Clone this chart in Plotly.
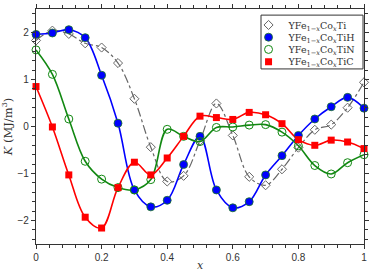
import plotly.graph_objects as go

x = [0.0, 0.05, 0.1, 0.15, 0.2, 0.25, 0.3, 0.35, 0.4, 0.45, 0.5,
     0.55, 0.6, 0.65, 0.7, 0.75, 0.8, 0.85, 0.9, 0.95, 1.0]

k_ti = [1.83, 2.04, 1.97, 1.77, 1.68, 1.35, 0.59, -0.44, -1.17, -1.05, -0.30,
        0.49, -0.19, -1.07, -1.25, -0.91, -0.45, -0.07, 0.04, 0.40, 0.94]
k_tih = [1.96, 1.99, 2.06, 1.89, 1.09, 0.07, -1.35, -1.71, -1.57, -0.81, -0.21,
         -1.35, -1.73, -1.60, -1.03, -0.62, -0.19, 0.16, 0.42, 0.62, 0.39]
k_tin = [1.63, 1.11, 0.16, -0.74, -1.12, -1.30, -1.35, -1.13, -0.06, -0.21, -0.32,
         -0.02, -0.01, 0.03, 0.04, -0.12, -0.41, -0.83, -1.01, -0.77, -0.60]
k_tic = [0.85, -0.01, -1.03, -1.93, -2.16, -1.30, -0.76, -1.03, -0.67, -0.21, 0.22,
         0.19, 0.15, 0.30, 0.25, 0.06, -0.28, -0.40, -0.29, -0.33, -0.47]

names = ["YFe<sub>1\u2212<i>x</i></sub>Co<sub><i>x</i></sub>Ti",
         "YFe<sub>1\u2212<i>x</i></sub>Co<sub><i>x</i></sub>TiH",
         "YFe<sub>1\u2212<i>x</i></sub>Co<sub><i>x</i></sub>TiN",
         "YFe<sub>1\u2212<i>x</i></sub>Co<sub><i>x</i></sub>TiC"]

x_ticks = [0, 0.2, 0.4, 0.6, 0.8, 1]
x_ticklabels = ["0", "0.2", "0.4", "0.6", "0.8", "1"]
y_ticks = [-2, -1, 0, 1, 2]
y_ticklabels = ["\u22122", "\u22121", "0", "1", "2"]

series = [
    dict(y=k_ti, color="#666666", dash="dashdot", width=1.2,
         marker=dict(symbol="diamond-open", size=7, color="#666666", line=dict(width=1, color="#666666"))),
    dict(y=k_tih, color="#0000ff", dash="solid", width=1.6,
         marker=dict(symbol="circle", size=8, color="#0000ff", line=dict(width=0.8, color="#1a7a1a"))),
    dict(y=k_tin, color="#118811", dash="solid", width=1.6,
         marker=dict(symbol="circle-open", size=8, color="#118811", line=dict(width=1, color="#118811"))),
    dict(y=k_tic, color="#ff0000", dash="solid", width=1.6,
         marker=dict(symbol="square", size=7, color="#ff0000", line=dict(width=0))),
]

fig = go.Figure()
for s in series:
    fig.add_trace(go.Scatter(x=x, y=s["y"], mode="lines",
                             line=dict(color=s["color"], dash=s["dash"], width=s["width"],
                                       shape="spline", smoothing=1.0),
                             showlegend=False, hoverinfo="skip", cliponaxis=False))

legend_ids = ["legend", "legend2", "legend3", "legend4"]
for s, n, lg in zip(series, names, legend_ids):
    fig.add_trace(go.Scatter(x=x, y=s["y"], mode="markers", name=n, legend=lg,
                             marker=s["marker"], cliponaxis=False))

axis_common = dict(showline=True, linecolor="#333333", linewidth=1.2, mirror="allticks",
                   ticks="outside", ticklen=4, tickwidth=1, tickcolor="#333333",
                   showgrid=False, zeroline=False, automargin=False,
                   tickfont=dict(family="Liberation Sans", size=10, color="#333333"))

fig.update_xaxes(range=[0, 1], tickvals=x_ticks, ticktext=x_ticklabels,
                 minor=dict(ticks="outside", dtick=0.04, tick0=0, ticklen=3,
                            tickcolor="#333333", tickwidth=1),
                 title=dict(text="<i>x</i>", standoff=0,
                            font=dict(family="DejaVu Serif", size=11, color="#333333")),
                 **axis_common)
fig.update_yaxes(range=[-2.5, 2.5], tickvals=y_ticks, ticktext=y_ticklabels,
                 minor=dict(ticks="outside", dtick=0.2, tick0=0, ticklen=3,
                            tickcolor="#333333", tickwidth=1),
                 title=dict(text="<i>K</i> (MJ/m<sup>3</sup>)", standoff=5,
                            font=dict(family="DejaVu Serif", size=11.5, color="#333333")),
                 **axis_common)

# legend frame (paper coordinates)
fig.add_shape(type="rect", xref="paper", yref="paper",
              x0=0.686, x1=0.997, y0=0.745, y1=0.974,
              fillcolor="white", line=dict(color="#333333", width=1), layer="above")

legend_y = [0.932, 0.880, 0.828, 0.776]
legend_font = dict(family="DejaVu Serif", size=9.5, color="#333333")
layout_legends = {}
for lg, ly in zip(legend_ids, legend_y):
    layout_legends[lg] = dict(x=0.648, y=ly, xanchor="left", yanchor="middle",
                              bgcolor="rgba(0,0,0,0)", borderwidth=0,
                              font=legend_font, itemwidth=30)

fig.update_layout(
    width=374, height=272,
    margin=dict(l=36, r=10, t=9, b=28),
    plot_bgcolor="white", paper_bgcolor="white",
    **layout_legends,
)

fig.write_html("out.html",
               config={"displayModeBar": False, "staticPlot": True, "responsive": False},
               post_script="document.body.style.margin='0';document.body.style.padding='0';")
